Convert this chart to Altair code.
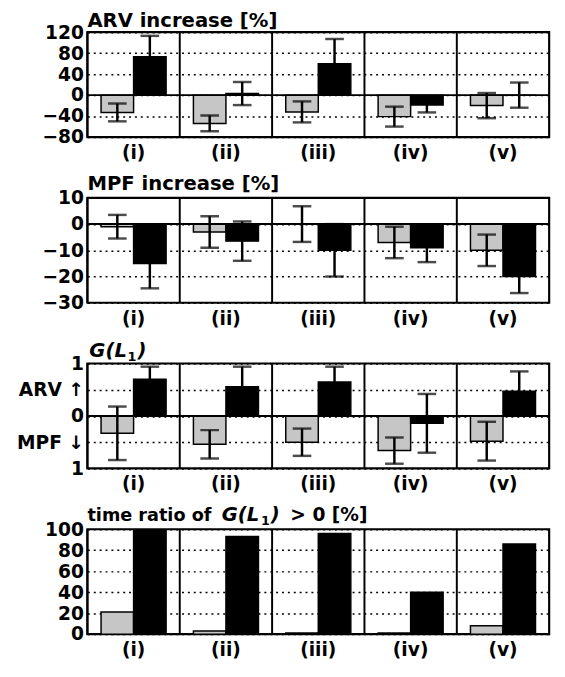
import altair as alt
import pandas as pd

cats = ["(i)", "(ii)", "(iii)", "(iv)", "(v)"]
series = ["grey", "black"]

arv_grey = [-33, -54, -32, -41, -20]
arv_grey_sd = [17, 15, 20, 19, 24]
arv_black = [73, 3, 60, -19, 0]
arv_black_sd = [40, 22, 47, 14, 24]

mpf_grey = [-1, -3, 0, -7, -10]
mpf_grey_sd = [4.5, 6, 6.8, 6, 6]
mpf_black = [-15, -6.5, -10, -9, -20]
mpf_black_sd = [9.5, 7.5, 10, 5.5, 6.3]

g_grey = [-0.33, -0.54, -0.50, -0.66, -0.48]
g_grey_sd = [0.51, 0.27, 0.26, 0.25, 0.37]
g_black = [0.70, 0.56, 0.65, -0.14, 0.47]
g_black_sd = [0.24, 0.38, 0.29, 0.56, 0.38]

tr_grey = [21, 3, 1, 1, 8]
tr_black = [99, 93, 96, 40, 86]

FONT = "DejaVu Sans"
FS = 19


def table(m1, m2, s1=None, s2=None):
    rows = []
    for i, c in enumerate(cats):
        for ser, m, s in ((series[0], m1[i], s1[i] if s1 else 0),
                          (series[1], m2[i], s2[i] if s2 else 0)):
            rows.append({"cat": c, "series": ser, "mean": m, "lo": m - s, "hi": m + s})
    return pd.DataFrame(rows)


def panel(df, domain, ticks, title_parts, label_expr=None, errors=True, zero=True):
    xaxis = alt.Axis(title=None, labelAngle=0, ticks=False, domain=False, grid=False,
                     labelPadding=7)
    xscale = alt.Scale(paddingInner=0, paddingOuter=0)
    yaxis_kw = dict(values=ticks, title=None, grid=True, ticks=False, domain=False,
                    labelPadding=4)
    if label_expr:
        yaxis_kw["labelExpr"] = label_expr
    yaxis = alt.Axis(**yaxis_kw)
    yscale = alt.Scale(domain=domain, nice=False, zero=False)

    X = alt.X("cat:N", sort=cats, scale=xscale, axis=xaxis)
    XO = alt.XOffset("series:N", sort=series,
                     scale=alt.Scale(paddingInner=0, paddingOuter=0.42))

    base = alt.Chart(df)
    layers = []
    bars = base.mark_bar(stroke="black", strokeWidth=1.5).encode(
        x=X, xOffset=XO,
        y=alt.Y("mean:Q", scale=yscale, axis=yaxis),
        color=alt.Color("series:N", scale=alt.Scale(domain=series, range=["#c6c6c6", "black"]),
                        legend=None),
    )
    layers.append(bars)
    if errors:
        layers.append(base.mark_rule(color="black", strokeWidth=2.5).encode(
            x=X, xOffset=XO, y=alt.Y("lo:Q", scale=yscale, axis=yaxis), y2="hi:Q"))
        for f in ("lo", "hi"):
            layers.append(base.mark_tick(color="black", size=19, thickness=2.5).encode(
                x=X, xOffset=XO, y=alt.Y(f"{f}:Q", scale=yscale, axis=yaxis)))
    sep = alt.Chart(pd.DataFrame({"cat": cats})).mark_rule(color="black", strokeWidth=2).encode(
        x=alt.X("cat:N", sort=cats, scale=xscale, axis=xaxis, bandPosition=0))
    layers.append(sep)
    if zero:
        layers.append(alt.Chart(pd.DataFrame({"mean": [0]})).mark_rule(
            color="black", strokeWidth=2).encode(y=alt.Y("mean:Q", scale=yscale, axis=yaxis)))
    for text, xpos, ypos, size, style in title_parts:
        layers.append(alt.Chart(pd.DataFrame({"t": [text]})).mark_text(
            align="left", baseline="alphabetic", font=FONT, fontSize=size,
            fontWeight="bold", fontStyle=style, color="black").encode(
            text="t:N", x=alt.value(xpos), y=alt.value(ypos)))
    return alt.layer(*layers).properties(width=471, height=107)


r1 = panel(table(arv_grey, arv_black, arv_grey_sd, arv_black_sd), [-80, 120],
           [-80, -40, 0, 40, 80, 120],
           [("ARV increase [%]", 0, -5, 20, "normal")])
r2 = panel(table(mpf_grey, mpf_black, mpf_grey_sd, mpf_black_sd), [-30, 10],
           [-30, -20, -10, 0, 10],
           [("MPF increase [%]", 0, -8, 20, "normal")])
r3 = panel(table(g_grey, g_black, g_grey_sd, g_black_sd), [-1, 1],
           [-1, -0.5, 0, 0.5, 1],
           [("G(L", 2, -7, 20, "italic"), ("1", 41, -3, 13, "normal"),
            (")", 51, -7, 20, "italic")],
           label_expr="datum.value == 0.5 ? 'ARV \u2191' : datum.value == -0.5 ? 'MPF \u2193' : datum.value == 0 ? '0' : '1'")
r4 = panel(table(tr_grey, tr_black), [0, 100], [0, 20, 40, 60, 80, 100],
           [("time ratio of", 0, -8, 18, "normal"), ("G(L", 137, -8, 20, "italic"),
            ("1", 177, -4, 13, "normal"), (")", 187, -8, 20, "italic"),
            ("> 0 [%]", 207, -8, 19, "normal")],
           errors=False, zero=False)

chart = alt.vconcat(r1, r2, r3, r4, spacing=62, bounds="flush").properties(
    padding={"left": 7, "top": -5, "right": 5, "bottom": 5}
).configure_view(stroke="black", strokeWidth=2.2).configure_axis(
    labelFont=FONT, labelFontSize=FS, labelFontWeight="bold", labelColor="black",
    gridColor="black", gridDash=[2, 4], gridWidth=1.5, gridOpacity=1,
)

chart.save("out.html", embed_options={"renderer": "svg", "actions": False})
